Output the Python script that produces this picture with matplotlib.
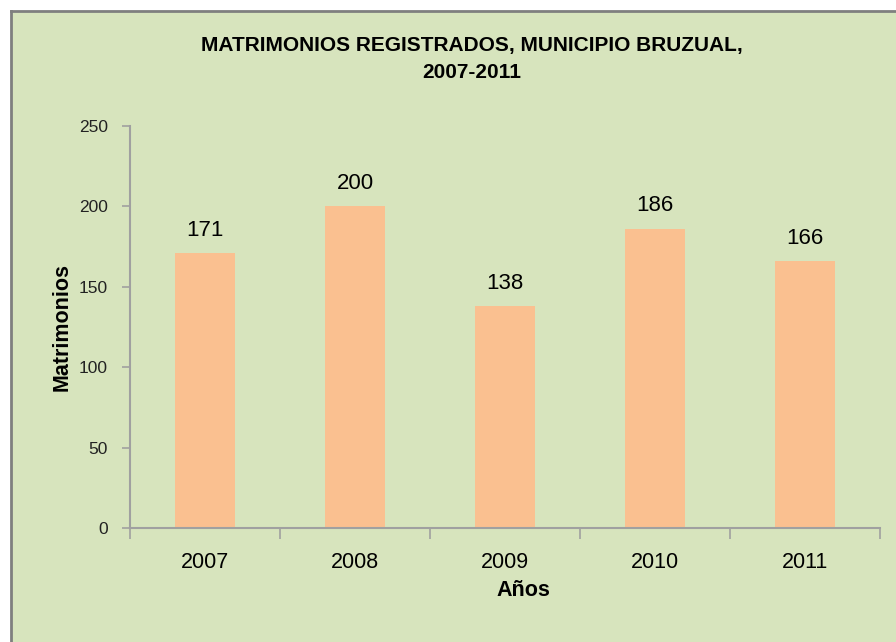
import matplotlib
matplotlib.use("Agg")
import matplotlib.pyplot as plt
from matplotlib.patches import Rectangle
from matplotlib.lines import Line2D

anios = ["2007", "2008", "2009", "2010", "2011"]
matrimonios = [171, 200, 138, 186, 166]
yticks = [0, 50, 100, 150, 200, 250]

plt.rcParams["font.family"] = ["Liberation Sans", "DejaVu Sans"]

fondo = "#D7E4BD"
barra = "#FAC090"
gris = "#A0A0A0"

fig = plt.figure(figsize=(8.96, 6.42), dpi=100)
fig.patch.set_facecolor(fondo)
# franja blanca y borde del area del grafico (solo izq y sup visibles)
fx, fy = 11/896, 1 - 11/642
fig.patches.append(Rectangle((0, 0), fx, 1, transform=fig.transFigure,
                             facecolor="white", edgecolor="none", zorder=-1))
fig.patches.append(Rectangle((0, fy), 1, 1 - fy, transform=fig.transFigure,
                             facecolor="white", edgecolor="none", zorder=-1))
fig.lines.append(Line2D([fx, fx], [0, fy], transform=fig.transFigure, color="#7F7F7F", lw=2))
fig.lines.append(Line2D([fx, 1], [fy, fy], transform=fig.transFigure, color="#7F7F7F", lw=2))

ax = fig.add_axes([130/896, 114/642, 750/896, 402/642])
ax.set_facecolor(fondo)
x = range(len(anios))
ax.bar(x, matrimonios, width=0.4, color=barra, zorder=2)
for xi, v in zip(x, matrimonios):
    ax.annotate(str(v), (xi, v), xytext=(0, 9), textcoords="offset points",
                ha="center", va="bottom", fontsize=16)

ax.set_xlim(-0.5, len(anios) - 0.5)
ax.set_ylim(0, 250)
ax.set_yticks(yticks)
ax.set_yticklabels([str(t) for t in yticks], fontsize=12.5, color="#222222")
ax.set_xticks([i - 0.5 for i in range(len(anios) + 1)], minor=False)
ax.set_xticklabels([])
ax.set_xticks(list(x), minor=True)
ax.set_xticklabels(anios, minor=True, fontsize=15.5)
ax.tick_params(axis="x", which="major", length=8, color=gris, width=1.2, direction="out")
ax.tick_params(axis="x", which="minor", length=0, pad=17)
ax.tick_params(axis="y", length=6, color=gris, width=1.2, pad=10)
for s in ["top", "right"]:
    ax.spines[s].set_visible(False)
for s in ["left", "bottom"]:
    ax.spines[s].set_color(gris)
    ax.spines[s].set_linewidth(1.5)

fig.text(472/896, 1 - 59/642, "MATRIMONIOS REGISTRADOS, MUNICIPIO BRUZUAL,\n2007-2011",
         ha="center", va="center", fontsize=15, fontweight="bold", linespacing=1.55)
fig.text(523/896, 1 - 590/642, "Años", ha="center", va="center", fontsize=15.5, fontweight="bold")
fig.text(62/896, 1 - 327/642, "Matrimonios", ha="center", va="center", rotation=90,
         fontsize=15.5, fontweight="bold")

fig.savefig("out.png", dpi=100)
